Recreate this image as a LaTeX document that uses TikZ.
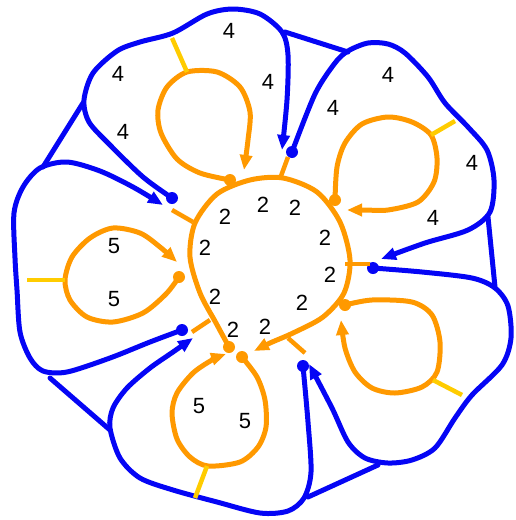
\documentclass[tikz,border=0pt]{standalone}
\usepackage{fontspec}
\setmainfont{Liberation Sans}
\usetikzlibrary{arrows.meta}
\definecolor{bl}{RGB}{5,5,245}
\definecolor{og}{RGB}{255,153,0}
\definecolor{yl}{RGB}{255,204,0}
\tikzset{
  bline/.style={draw=bl, line width=5pt, line cap=round, line join=round},
  oline/.style={draw=og, line width=5pt, line cap=round, line join=round},
  yline/.style={draw=yl, line width=4.5pt},
  otick/.style={draw=og, line width=4.5pt},
  btip/.style={-{Triangle[length=15pt,width=12pt]}},
  bdot/.style={fill=bl, circle, inner sep=0pt, minimum size=12pt},
  odot/.style={fill=og, circle, inner sep=0pt, minimum size=12pt},
  lab/.style={font=\fontsize{22}{22}\selectfont, inner sep=0pt}
}
\begin{document}
\begin{tikzpicture}[x=1pt,y=-1pt]
\useasboundingbox (0,0) rectangle (515,520);
% named coordinates: dots and tips
\coordinate (dA) at (172,198); \coordinate (tA) at (282,150);
\coordinate (dB) at (292,152); \coordinate (tB) at (381,259);
\coordinate (dC) at (373,268); \coordinate (tC) at (309,364);
\coordinate (dD) at (303,366); \coordinate (tD) at (193,338);
\coordinate (dE) at (182,330); \coordinate (tE) at (163,205);
% blue petals
\draw[bline,btip] plot[smooth] coordinates {(dA) (143,177) (110,145) (89,122) (84,100) (93,73) (117,51) (140,42) (173,33) (207,14) (233,9) (260,14) (282,32) (288,55) (287,100) (tA)};
\draw[bline,btip] plot[smooth] coordinates {(dB) (315,94) (335,63) (348,51) (368,43) (388,44) (405,53) (428,77) (445,103) (468,127) (487,150) (494,180) (490,212) (468,230) (425,243) (tB)};
\draw[bline,btip] plot[smooth] coordinates {(dC) (422,272) (472,278) (495,288) (508,306) (511,338) (502,365) (472,395) (455,418) (435,448) (412,460) (388,463) (365,458) (348,442) (332,408) (tC)};
\draw[bline,btip] plot[smooth] coordinates {(dD) (308,422) (311,472) (304,498) (288,511) (260,513) (217,502) (173,490) (140,478) (120,458) (110,428) (113,408) (127,388) (150,368) (173,352) (tD)};
\draw[bline,btip] plot[smooth] coordinates {(dE) (150,342) (110,358) (67,372) (43,371) (30,358) (20,332) (17,290) (15,258) (14,213) (23,187) (40,168) (67,162) (100,171) (133,187) (tE)};
% blue straight links
\coordinate (lA1) at (285,32); \coordinate (lA2) at (348,52);
\coordinate (lB1) at (488,217); \coordinate (lB2) at (495,287);
\coordinate (lC1) at (378,465); \coordinate (lC2) at (308,497);
\coordinate (lD1) at (50,378); \coordinate (lD2) at (110,430);
\coordinate (lE1) at (83,103); \coordinate (lE2) at (43,167);
\draw[bline] (lA1) -- (lA2);
\draw[bline] (lB1) -- (lB2);
\draw[bline] (lC1) -- (lC2);
\draw[bline] (lD1) -- (lD2);
\draw[bline] (lE1) -- (lE2);
% blue dots
\node[bdot] (bdA) at (dA) {};
\node[bdot] (bdB) at (dB) {};
\node[bdot] (bdC) at (dC) {};
\node[bdot] (bdD) at (dD) {};
\node[bdot] (bdE) at (dE) {};
% orange centre loop
\coordinate (dO) at (229,347); \coordinate (tO) at (254,351);
\draw[oline,btip] plot[smooth] coordinates {(dO) (216,323) (200,293) (190,257) (195,223) (217,194) (250,180) (283,178) (317,192) (340,222) (350,260) (344,293) (323,317) (293,333) (270,343) (tO)};
% centre ticks
\draw[otick] (172,210) -- (193,222);
\draw[otick] (281,176) -- (288,157);
\draw[otick] (345,264) -- (370,264);
\draw[otick] (288,338) -- (305,353);
\draw[otick] (192,332) -- (210,320);
% orange petals
\coordinate (dP1) at (230,180); \coordinate (tP1) at (244,170);
\coordinate (dP2) at (335,200); \coordinate (tP2) at (347,210);
\coordinate (dP3) at (345,305); \coordinate (tP3) at (341,320);
\coordinate (dP4) at (242,357); \coordinate (tP4) at (226,354);
\coordinate (dP5) at (179,277); \coordinate (tP5) at (177,262);
\draw[oline,btip] plot[smooth] coordinates {(dP1) (200,173) (177,159) (161,133) (158,110) (167,87) (187,72) (217,72) (240,87) (250,112) (248,140) (tP1)};
\draw[oline,btip] plot[smooth] coordinates {(dP2) (337,167) (345,143) (362,124) (388,117) (412,122) (431,135) (437,158) (434,182) (418,202) (388,210) (365,210) (tP2)};
\draw[oline,btip] plot[smooth] coordinates {(dP3) (372,300) (412,302) (432,315) (440,342) (437,372) (422,387) (395,393) (372,388) (355,372) (345,348) (tP3)};
\draw[oline,btip] plot[smooth] coordinates {(dP4) (257,377) (265,400) (266,427) (258,447) (240,462) (208,466) (190,457) (177,439) (172,413) (177,393) (193,373) (212,360) (tP4)};
\draw[oline,btip] plot[smooth] coordinates {(dP5) (166,294) (143,313) (113,322) (87,317) (70,300) (65,280) (72,257) (90,238) (113,228) (140,233) (160,247) (tP5)};
% yellow ties
\draw[yline] (187,72) -- (172,38);
\draw[yline] (431,135) -- (455,121);
\draw[yline] (433,380) -- (462,395);
\draw[yline] (207,466) -- (195,498);
\draw[yline] (65,280) -- (27,280);
% orange dots
\node[odot] (odO) at (dO) {};
\node[odot] (od1) at (dP1) {};
\node[odot] (od2) at (dP2) {};
\node[odot] (od3) at (dP3) {};
\node[odot] (od4) at (dP4) {};
\node[odot] (od5) at (dP5) {};
% labels 4
\node[lab] (f1) at (118,74) {4};
\node[lab] (f2) at (123,132) {4};
\node[lab] (f3) at (229,31) {4};
\node[lab] (f4) at (268,82) {4};
\node[lab] (f5) at (388,75) {4};
\node[lab] (f6) at (333,108) {4};
\node[lab] (f7) at (472,163) {4};
\node[lab] (f8) at (433,218) {4};
% labels 5
\node[lab] (v1) at (114,246) {5};
\node[lab] (v2) at (114,299) {5};
\node[lab] (v3) at (199,406) {5};
\node[lab] (v4) at (245,421) {5};
% labels 2
\node[lab] (t1) at (225,217) {2};
\node[lab] (t2) at (263,205) {2};
\node[lab] (t3) at (295,208) {2};
\node[lab] (t4) at (325,238) {2};
\node[lab] (t5) at (330,275) {2};
\node[lab] (t6) at (302,303) {2};
\node[lab] (t7) at (265,327) {2};
\node[lab] (t8) at (233,330) {2};
\node[lab] (t9) at (215,297) {2};
\node[lab] (t10) at (205,248) {2};
\end{tikzpicture}
\end{document}
